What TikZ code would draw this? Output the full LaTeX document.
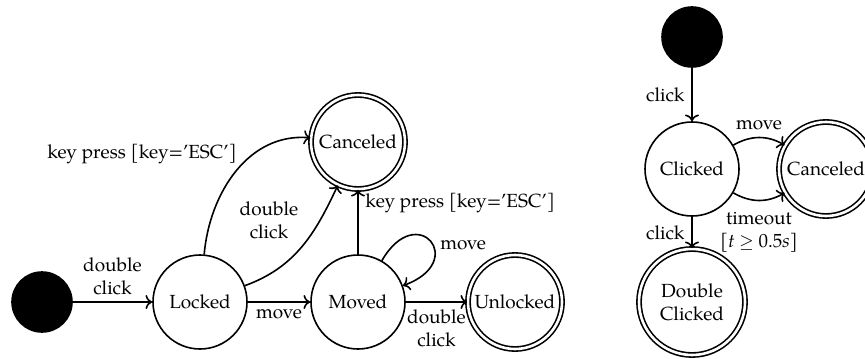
\documentclass[tikz,border=0pt]{standalone}
\usepackage{fontspec}
\setmainfont{TeX Gyre Pagella}
\usetikzlibrary{automata,arrows.meta,positioning}
\begin{document}
\begin{tikzpicture}[x=0.5pt,y=-0.5pt,
  every node/.style={font=\fontsize{9.5}{11.5}\selectfont},
  st/.style={circle,draw,line width=0.8pt,minimum size=47pt,inner sep=1pt,align=center},
  acc/.style={st,double,double distance=1.3pt},
  ini/.style={circle,fill=black,draw,line width=0.8pt,minimum size=30pt},
  tr/.style={->,line width=0.8pt},
  lbl/.style={align=center}]
\useasboundingbox (0,0) rectangle (865,358);
% left diagram
\node[ini] (i1) at (42,302) {};
\node[st] (locked) at (200,302) {Locked};
\node[st] (moved) at (358,302) {Moved};
\node[acc] (can1) at (358,142) {Canceled};
\node[acc] (unl) at (515,302) {Unlocked};
\draw[tr] (i1) -- node[above,lbl] {double\\click} (locked);
\draw[tr] (locked) -- node[below] {move} (moved);
\draw[tr] (locked) to[out=85,in=175] node[above left,xshift=4pt] {key press [key='ESC']} (can1);
\draw[tr] (locked) to[out=20,in=245] node[above left,lbl,xshift=2pt] {double\\click} (can1);
\draw[tr] (moved) -- node[pos=0.8,right] {key press [key='ESC']} (can1);
\draw[tr] (moved) to[out=60,in=20,looseness=5.5] node[pos=0.55,right] {move} (moved);
\draw[tr] (moved) -- node[below,lbl] {double\\click} (unl);
% right diagram
\node[ini] (i2) at (692,37) {};
\node[st] (clicked) at (692,169) {Clicked};
\node[acc] (can2) at (826,169) {Canceled};
\node[acc,minimum size=53pt] (dbl) at (692,302) {Double\\Clicked};
\draw[tr] (i2) -- node[left] {click} (clicked);
\draw[tr] (clicked) to[bend left] node[above] {move} (can2);
\draw[tr] (clicked) to[bend right] node[below,lbl,yshift=-2pt] {timeout\\{}[\textit{t} $\geq$ 0.5\textit{s}]} (can2);
\draw[tr] (clicked) -- node[left] {click} (dbl);
\end{tikzpicture}
\end{document}
